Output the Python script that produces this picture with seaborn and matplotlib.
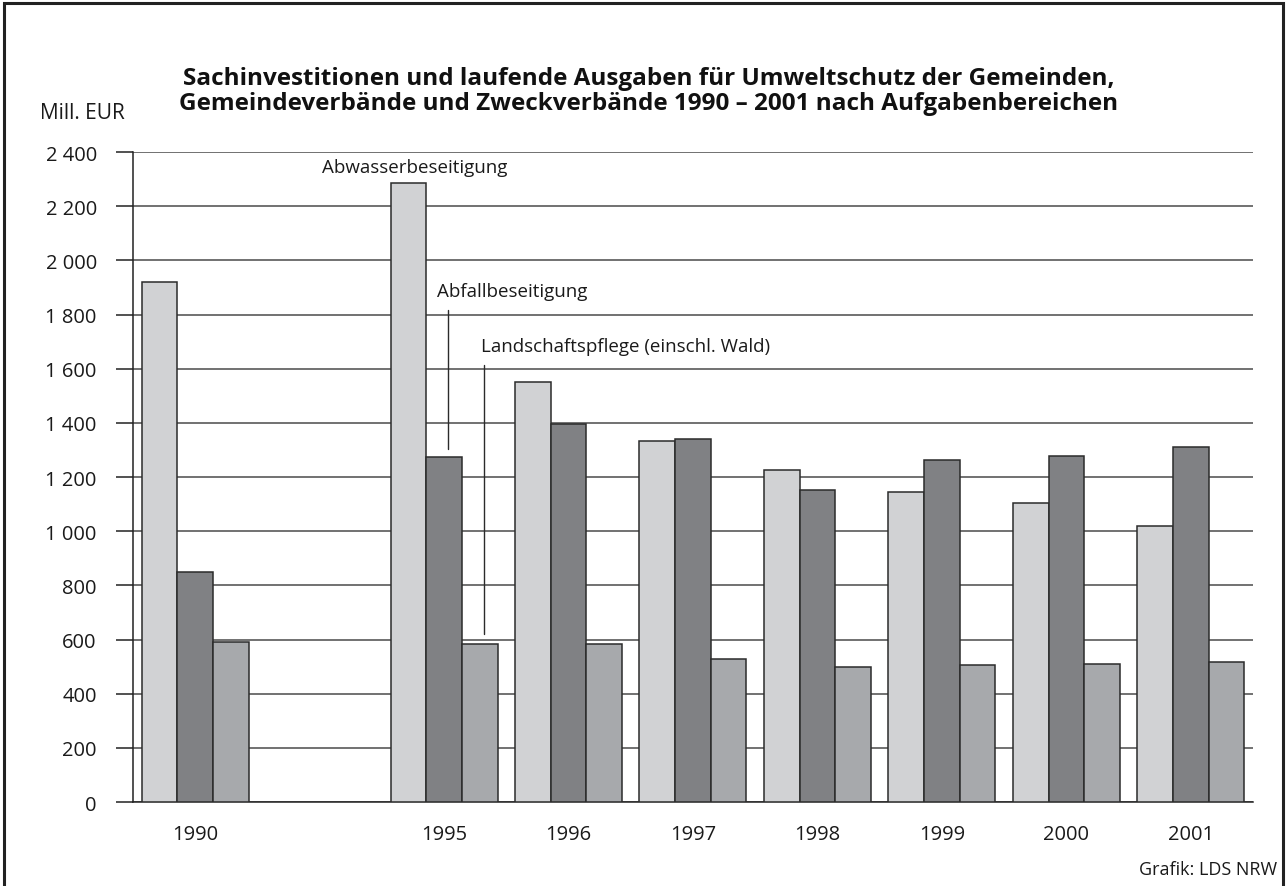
import pandas as pd
import numpy as np
import matplotlib
matplotlib.use('Agg')
import matplotlib.pyplot as plt
import seaborn as sns

# values (Mill. EUR)...
years = ['1990', '1995', '1996', '1997', '1998', '1999', '2000', '2001']
abwasser = [1920, 2285, 1550, 1332, 1225, 1146, 1103, 1019]
abfall = [851, 1275, 1394, 1342, 1151, 1262, 1277, 1310]
landschaft = [589, 584, 585, 528, 497, 506, 511, 516]
series_names = ['Abwasserbeseitigung', 'Abfallbeseitigung', 'Landschaftspflege (einschl. Wald)']
y_ticks = [0, 200, 400, 600, 800, 1000, 1200, 1400, 1600, 1800, 2000, 2200, 2400]

# the x axis leaves one empty slot between 1990 and 1995...
x_order = [years[0], ' '] + years[1:]

df = pd.DataFrame({
    'Jahr': years * 3,
    'Bereich': [series_names[0]] * len(years) + [series_names[1]] * len(years) + [series_names[2]] * len(years),
    'Wert': abwasser + abfall + landschaft,
})

sns.set_theme(style='white')
plt.rcParams['font.family'] = ['Open Sans', 'DejaVu Sans']

fig = plt.figure(figsize=(12.87, 8.87), dpi=100)
ax = fig.add_axes([0.1033, 0.0947, 0.8703, 0.7328])

palette = ['#d1d2d4', '#808184', '#a7a9ac']
sns.barplot(data=df, x='Jahr', y='Wert', hue='Bereich', order=x_order,
            hue_order=series_names, palette=palette, width=0.86, gap=0,
            edgecolor='#2b2b2b', linewidth=1.1, saturation=1, legend=False,
            zorder=3, ax=ax)

ax.set_ylim(0, 2400)
ax.set_xlim(-0.5, len(x_order) - 0.5)
ax.set_yticks(y_ticks)
ax.set_yticklabels([f'{v:,}'.replace(',', ' ') for v in y_ticks])
ax.yaxis.grid(True, color='#4a4a4a', linewidth=1.1, zorder=0)
ax.set_axisbelow(True)
ax.set_xlabel('')
ax.set_ylabel('')

for side in ['top', 'right']:
    ax.spines[side].set_visible(False)
for side in ['left', 'bottom']:
    ax.spines[side].set_color('#222222')
    ax.spines[side].set_linewidth(1.1)

ax.tick_params(axis='y', length=12, width=1.1, color='#222222', pad=14,
               labelsize=14.5, labelcolor='#1a1a1a', left=True)
ax.tick_params(axis='x', length=0, pad=16, labelsize=14.5, labelcolor='#1a1a1a')

# series labels with leader lines...
ax.text(1.02, 2345, series_names[0], fontsize=13.5, va='center', ha='left', color='#1a1a1a')
ax.text(1.944, 1885, series_names[1], fontsize=13.5, va='center', ha='left', color='#1a1a1a')
ax.plot([2.03, 2.03], [1815, 1302], color='#2b2b2b', linewidth=1.0, zorder=4)
ax.text(2.295, 1685, series_names[2], fontsize=13.5, va='center', ha='left', color='#1a1a1a')
ax.plot([2.32, 2.32], [1615, 620], color='#2b2b2b', linewidth=1.0, zorder=4)

fig.text(0.504, 0.911, 'Sachinvestitionen und laufende Ausgaben für Umweltschutz der Gemeinden,',
         ha='center', va='center', fontsize=17.5, fontweight='bold', color='#111111')
fig.text(0.504, 0.883, 'Gemeindeverbände und Zweckverbände 1990 – 2001 nach Aufgabenbereichen',
         ha='center', va='center', fontsize=17.5, fontweight='bold', color='#111111')
fig.text(0.031, 0.8726, 'Mill. EUR', ha='left', va='center', fontsize=15, color='#1a1a1a')
fig.text(0.992, 0.019, 'Grafik: LDS NRW', ha='right', va='center', fontsize=13, color='#1a1a1a')

# outer frame around the whole graphic...
frame = plt.Rectangle((0.003, -0.01), 0.994, 1.006, transform=fig.transFigure,
                      fill=False, edgecolor='#222222', linewidth=2.2)
fig.patches.append(frame)

fig.savefig('out.png', dpi=100)
